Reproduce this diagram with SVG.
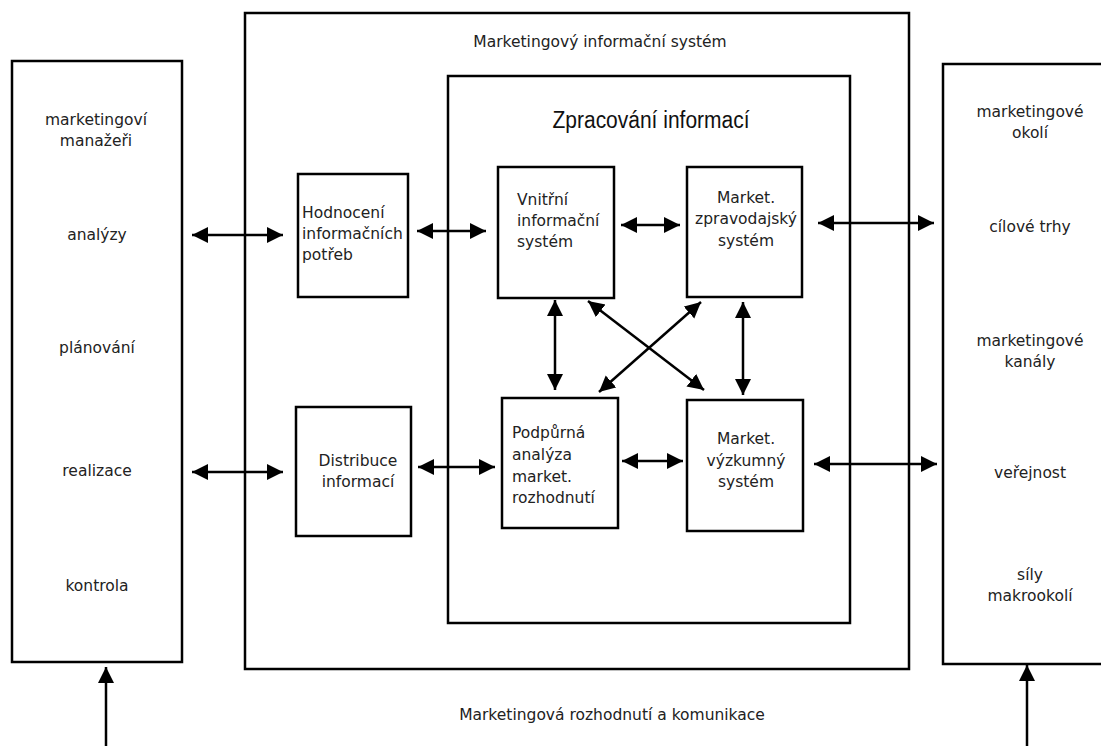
<svg xmlns="http://www.w3.org/2000/svg" width="1101" height="746" viewBox="0 0 1101 746">
  <style>
    .box { fill: none; stroke: #000; stroke-width: 2.5; }
    .lbl { font-family: "DejaVu Sans", "Liberation Sans", sans-serif; font-size: 15.5px; fill: #222; }
    .mid { text-anchor: middle; }
    .con { stroke: #000; stroke-width: 2.5; fill: none; marker-end: url(#head); }
    .both { marker-start: url(#head); }
  </style>
  <defs>
    <marker id="head" markerUnits="userSpaceOnUse" markerWidth="17" markerHeight="17" viewBox="0 0 17 17" refX="16" refY="8" orient="auto-start-reverse">
      <path d="M0,0 L16,8 L0,16 z" fill="#000"/>
    </marker>
  </defs>
  <rect width="1101" height="746" fill="#fff"/>

  <!-- left column: managers -->
  <g id="managers">
    <rect class="box" x="12" y="61" width="170" height="601"/>
    <text class="lbl mid" x="96" y="125">marketingoví</text>
    <text class="lbl mid" x="96" y="146">manažeři</text>
    <text class="lbl mid" x="97" y="240">analýzy</text>
    <text class="lbl mid" x="97" y="353">plánování</text>
    <text class="lbl mid" x="97" y="476">realizace</text>
    <text class="lbl mid" x="97" y="591">kontrola</text>
  </g>

  <!-- central system frame -->
  <g id="mis">
    <rect class="box" x="245" y="13" width="664" height="656"/>
    <text class="lbl mid" x="600" y="47">Marketingový informační systém</text>
  </g>

  <g id="processing">
    <rect class="box" x="448" y="76" width="402" height="547"/>
    <text x="651" y="128" text-anchor="middle" font-family="Liberation Sans, Arial, sans-serif" font-size="23" textLength="197" lengthAdjust="spacingAndGlyphs" fill="#111">Zpracování informací</text>
  </g>

  <g id="needs">
    <rect class="box" x="298" y="174" width="110" height="123"/>
    <text class="lbl" x="302" y="218">Hodnocení</text>
    <text class="lbl" x="302" y="239">informačních</text>
    <text class="lbl" x="302" y="260">potřeb</text>
  </g>

  <g id="internal">
    <rect class="box" x="498" y="167" width="116" height="131"/>
    <text class="lbl" x="517" y="205">Vnitřní</text>
    <text class="lbl" x="517" y="226">informační</text>
    <text class="lbl" x="517" y="247">systém</text>
  </g>

  <g id="intelligence">
    <rect class="box" x="687" y="167" width="115" height="130"/>
    <text class="lbl mid" x="746" y="203">Market.</text>
    <text class="lbl mid" x="746" y="224">zpravodajský</text>
    <text class="lbl mid" x="746" y="246">systém</text>
  </g>

  <g id="distribution">
    <rect class="box" x="296" y="407" width="115" height="129"/>
    <text class="lbl mid" x="358" y="466">Distribuce</text>
    <text class="lbl mid" x="358" y="487">informací</text>
  </g>

  <g id="support">
    <rect class="box" x="502" y="398" width="116" height="130"/>
    <text class="lbl" x="512" y="438">Podpůrná</text>
    <text class="lbl" x="512" y="460">analýza</text>
    <text class="lbl" x="512" y="482">market.</text>
    <text class="lbl" x="512" y="503">rozhodnutí</text>
  </g>

  <g id="research">
    <rect class="box" x="687" y="400" width="116" height="131"/>
    <text class="lbl mid" x="746" y="444">Market.</text>
    <text class="lbl mid" x="746" y="466">výzkumný</text>
    <text class="lbl mid" x="746" y="487">systém</text>
  </g>

  <!-- right column: environment -->
  <g id="environment">
    <rect class="box" x="943" y="64" width="170" height="600"/>
    <text class="lbl mid" x="1030" y="117">marketingové</text>
    <text class="lbl mid" x="1030" y="138">okolí</text>
    <text class="lbl mid" x="1030" y="232">cílové trhy</text>
    <text class="lbl mid" x="1030" y="346">marketingové</text>
    <text class="lbl mid" x="1030" y="367">kanály</text>
    <text class="lbl mid" x="1030" y="478">veřejnost</text>
    <text class="lbl mid" x="1030" y="580">síly</text>
    <text class="lbl mid" x="1030" y="601">makrookolí</text>
  </g>

  <text class="lbl mid" x="612" y="720">Marketingová rozhodnutí a komunikace</text>

  <!-- connectors -->
  <g id="connectors">
    <line class="con both" x1="192" y1="235" x2="283" y2="235"/>
    <line class="con both" x1="417" y1="231" x2="486" y2="231"/>
    <line class="con both" x1="621" y1="225" x2="680" y2="225"/>
    <line class="con both" x1="818" y1="223" x2="934" y2="223"/>
    <line class="con both" x1="192" y1="472" x2="283" y2="472"/>
    <line class="con both" x1="418" y1="467" x2="495" y2="467"/>
    <line class="con both" x1="622" y1="461" x2="683" y2="461"/>
    <line class="con both" x1="814" y1="464" x2="937" y2="464"/>
    <line class="con both" x1="555" y1="300" x2="555" y2="390"/>
    <line class="con both" x1="743" y1="302" x2="743" y2="395"/>
    <line class="con both" x1="588" y1="301" x2="704" y2="390"/>
    <line class="con both" x1="701" y1="302" x2="599" y2="392"/>
    <line class="con" x1="106" y1="746" x2="106" y2="667"/>
    <line class="con" x1="1027" y1="746" x2="1027" y2="665"/>
  </g>
</svg>
